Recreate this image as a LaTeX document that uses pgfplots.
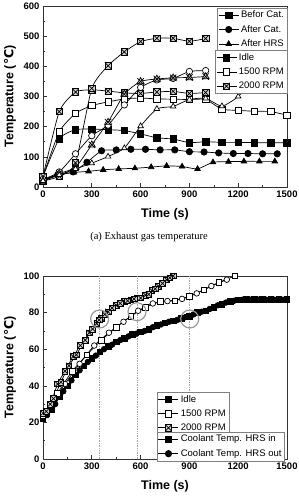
\documentclass[border=0pt]{standalone}
\usepackage{fontspec}
\setmainfont{Liberation Sans}
\newfontfamily\capfont{Liberation Serif}
\newfontfamily\dv{DejaVu Sans}
\usepackage{pgfplots}
\pgfplotsset{compat=1.18}

\pgfdeclareplotmark{xsquare}{%
  \pgfpathrectangle{\pgfpoint{-\pgfplotmarksize}{-\pgfplotmarksize}}{\pgfpoint{2\pgfplotmarksize}{2\pgfplotmarksize}}%
  \pgfusepathqfillstroke
  \pgfpathmoveto{\pgfpoint{-\pgfplotmarksize}{-\pgfplotmarksize}}%
  \pgfpathlineto{\pgfpoint{\pgfplotmarksize}{\pgfplotmarksize}}%
  \pgfpathmoveto{\pgfpoint{-\pgfplotmarksize}{\pgfplotmarksize}}%
  \pgfpathlineto{\pgfpoint{\pgfplotmarksize}{-\pgfplotmarksize}}%
  \pgfusepathqstroke}
\pgfdeclareplotmark{xtriangle}{%
  \pgfpathmoveto{\pgfpoint{0pt}{1.2\pgfplotmarksize}}%
  \pgfpathlineto{\pgfpoint{-1.1\pgfplotmarksize}{-0.7\pgfplotmarksize}}%
  \pgfpathlineto{\pgfpoint{1.1\pgfplotmarksize}{-0.7\pgfplotmarksize}}%
  \pgfpathclose
  \pgfusepathqfillstroke
  \pgfpathmoveto{\pgfpoint{-\pgfplotmarksize}{-\pgfplotmarksize}}%
  \pgfpathlineto{\pgfpoint{\pgfplotmarksize}{\pgfplotmarksize}}%
  \pgfpathmoveto{\pgfpoint{-\pgfplotmarksize}{\pgfplotmarksize}}%
  \pgfpathlineto{\pgfpoint{\pgfplotmarksize}{-\pgfplotmarksize}}%
  \pgfusepathqstroke}

\newcommand\tickfont{\fontsize{9.5}{10}\selectfont\bfseries}
\newcommand\labfont{\fontsize{12.5}{13}\selectfont\bfseries}
\newcommand\legfont{\fontsize{9.5}{10}\selectfont}

\pgfplotsset{
  base/.style={
    scale only axis, width=244pt, anchor=south west,
    xmin=0, xmax=1500, xtick={0,300,...,1500}, minor x tick num=1,
    tick align=inside, xtick pos=bottom, ytick pos=left,
    major tick length=4pt, minor tick length=2pt,
    axis line style={line width=0.8pt, black!80},
    tick style={black!80, line width=0.6pt},
    xticklabel style={font=\tickfont},
    yticklabel style={font=\tickfont},
    /pgf/number format/assume math mode=true,
    /pgf/number format/set thousands separator={},
    xlabel={Time (s)}, ylabel={Temperature ({\dv\bfseries ℃})},
    every axis x label/.style={at={(rel axis cs:0.5,0)}, yshift=-27pt, anchor=center, font=\labfont},
    every axis y label/.style={at={(rel axis cs:0,0.5)}, xshift=-33pt, rotate=90, anchor=center, font=\labfont},
    every axis plot/.append style={black, line width=0.7pt, mark size=3.2pt, smooth, tension=0.35},
    legend style={font=\legfont, draw=black!50, fill=white, inner sep=1pt, row sep=2pt, cells={anchor=west}},
    legend image code/.code={\draw[mark repeat=2,mark phase=2,#1] plot coordinates {(0pt,0pt)(10pt,0pt)(20pt,0pt)};},
  },
  leg/.style={scale only axis, width=244pt, anchor=south west, hide axis, xmin=0, xmax=1, ymin=0, ymax=1,
    legend style={font=\legfont, draw=black!50, fill=white, inner sep=1pt, row sep=2pt, cells={anchor=west}},
    legend image code/.code={\draw[mark repeat=2,mark phase=2,#1] plot coordinates {(0pt,0pt)(10pt,0pt)(20pt,0pt)};},
  },
  fsq/.style={mark=square*, mark options={fill=black}},
  osq/.style={mark=square*, mark options={fill=white}},
  xsq/.style={mark=xsquare, mark options={fill=gray!35}},
  fci/.style={mark=*, mark options={fill=black}},
  oci/.style={mark=*, mark options={fill=white}},
  ftr/.style={mark=triangle*, mark options={fill=black}},
  otr/.style={mark=triangle*, mark options={fill=white}},
  xtr/.style={mark=xtriangle, mark options={fill=gray!35}},
}

\begin{document}
\begin{tikzpicture}
\useasboundingbox (0pt,0pt) rectangle (298pt,501pt);

% ---------------- top chart
\begin{axis}[base, at={(43pt,314pt)}, height=181pt,
  ymin=0, ymax=600, ytick={0,100,...,600}, minor y tick num=1,
  legend style={at={(rel axis cs:1,0.99)}, anchor=north east}]
\addplot[fsq, forget plot] coordinates {(0,35)(100,160)(200,190)(300,192)(400,190)(500,187)(600,176)(700,163)(800,159)(900,147)(1000,150)(1100,148)(1200,148)(1300,147)(1400,147)(1500,147)};
\addplot[fci, forget plot] coordinates {(0,25)(90,40)(185,50)(270,82)(360,120)(450,123)(540,125)(630,125)(720,123)(810,123)(900,117)(990,116)(1080,113)(1170,111)(1260,111)(1350,110)(1440,110)};
\addplot[ftr, forget plot] coordinates {(0,20)(90,40)(190,48)(280,52)(370,57)(465,60)(565,62)(665,66)(760,70)(855,68)(950,60)(1045,82)(1140,84)(1235,85)(1330,85)(1425,85)};
\addplot[osq, forget plot] coordinates {(0,35)(100,183)(200,244)(300,270)(400,282)(500,292)(600,295)(700,292)(800,291)(900,290)(1000,290)(1100,258)(1200,254)(1300,251)(1400,250)(1500,238)};
\addplot[xsq, forget plot] coordinates {(0,35)(100,250)(200,315)(300,322)(400,318)(500,312)(600,310)(700,315)(800,317)(900,310)(1000,313)};
\addplot[xsq, forget plot] coordinates {(0,20)(100,35)(200,80)(300,327)(400,402)(500,448)(600,482)(700,493)(800,493)(900,483)(1000,492)};
\addplot[oci, forget plot] coordinates {(0,25)(100,50)(200,110)(300,170)(400,205)(500,272)(600,330)(700,355)(800,360)(900,383)(1000,386)};
\addplot[xtr, forget plot] coordinates {(0,20)(100,45)(200,65)(300,140)(400,215)(500,308)(600,350)(700,358)(800,362)(900,363)(1000,366)};
\addplot[otr, forget plot] coordinates {(0,20)(100,40)(200,60)(300,79)(400,101)(500,129)(600,202)(700,259)(800,267)(900,290)(1000,294)(1100,268)(1200,300)(1300,360)};
\addlegendimage{black, line width=0.7pt, mark size=3.2pt, fsq}\addlegendentry{Befor Cat.}
\addlegendimage{black, line width=0.7pt, mark size=3.2pt, fci}\addlegendentry{After Cat.}
\addlegendimage{black, line width=0.7pt, mark size=3.2pt, ftr}\addlegendentry{After HRS}
\end{axis}
\begin{axis}[leg, at={(43pt,314pt)}, height=181pt,
  legend style={at={(rel axis cs:1,0.755)}, anchor=north east}]
\addlegendimage{black, line width=0.7pt, mark size=3.2pt, fsq}\addlegendentry{Idle}
\addlegendimage{black, line width=0.7pt, mark size=3.2pt, osq}\addlegendentry{1500 RPM}
\addlegendimage{black, line width=0.7pt, mark size=3.2pt, xsq}\addlegendentry{2000 RPM}
\end{axis}

\node[font=\capfont\fontsize{10.5}{11}\selectfont] at (149pt,264pt) {(a) Exhaust gas temperature};

% ---------------- bottom chart
\begin{axis}[base, at={(43pt,42pt)}, height=183pt,
  ymin=0, ymax=100, ytick={0,20,...,100}, minor y tick num=1,
  every axis plot/.append style={mark size=2.8pt},
  legend style={at={(rel axis cs:0.467,0.366)}, anchor=north west}]
\addplot[gray!70, densely dotted, line width=0.6pt, no marks, forget plot, sharp plot] coordinates {(348,0)(348,100)};
\addplot[gray!70, densely dotted, line width=0.6pt, no marks, forget plot, sharp plot] coordinates {(578,0)(578,100)};
\addplot[gray!70, densely dotted, line width=0.6pt, no marks, forget plot, sharp plot] coordinates {(902,0)(902,100)};
\addplot[fsq, forget plot] coordinates {(0,22)(50,27)(100,34)(150,40)(200,46)(250,51)(300,55)(350,58.5)(400,61.5)(450,64)(500,66)(550,68)(600,69.5)(650,71)(700,73)(750,74.5)(800,75.5)(850,77)(900,78)(950,80)(1000,81)(1050,83)(1100,84.5)(1150,86)(1200,87)(1250,87.3)(1300,87.3)(1350,87.3)(1400,87.3)(1450,87.2)(1500,87.2)};
\addplot[fci, forget plot] coordinates {(25,24)(75,30)(125,37)(175,43)(225,48.5)(275,53)(325,56.5)(375,60)(425,62.5)(475,65)(525,67)(575,68.5)(625,70)(675,72)(725,73.5)(775,75)(825,76)(875,77.5)(925,79)(975,80.5)(1025,82)(1075,84)(1125,85.5)(1175,86.5)(1225,87)(1275,87)(1325,87)(1375,87)(1425,87)(1475,87)};
\addplot[osq, forget plot] coordinates {(0,24)(90,36)(180,48)(270,57)(360,65)(450,72)(540,78)(630,83)(720,86)(810,86.5)(900,89)(990,92.5)(1080,96.5)(1180,100)};
\addplot[oci, forget plot] coordinates {(45,29)(135,41)(225,52)(315,62)(405,69)(495,75)(585,81)(675,85)(765,86.3)(855,87.5)(945,90.5)(1035,94.5)(1130,98)};
\addplot[xsq, forget plot] coordinates {(0,25)(45,30)(90,41)(135,48)(185,56)(230,62)(285,69)(330,74)(360,77)(400,80.5)(450,84)(500,86)(540,87)(580,88)(630,89.5)(670,92)(710,94.5)(760,98)(800,100)};
\addplot[xsq, forget plot] coordinates {(20,26)(65,33)(110,42)(160,51)(205,57)(260,65)(305,71)(345,76)(380,79)(425,82.5)(475,85)(520,86.5)(560,87.5)(600,88)(650,90)(690,93)(735,96)(780,99)};
\addplot[gray!80, line width=1.2pt, mark=o, mark size=9pt, only marks, forget plot] coordinates {(348,76.5)(578,80.5)(902,76.5)};
\addlegendimage{black, line width=0.7pt, mark size=3.2pt, fsq}\addlegendentry{Idle}
\addlegendimage{black, line width=0.7pt, mark size=3.2pt, osq}\addlegendentry{1500 RPM}
\addlegendimage{black, line width=0.7pt, mark size=3.2pt, xsq}\addlegendentry{2000 RPM}
\end{axis}
\begin{axis}[leg, at={(43pt,42pt)}, height=183pt,
  legend style={at={(rel axis cs:0.467,0.148)}, anchor=north west}]
\addlegendimage{black, line width=0.7pt, mark size=3.2pt, fsq}\addlegendentry{Coolant Temp. HRS in}
\addlegendimage{black, line width=0.7pt, mark size=3.2pt, fci}\addlegendentry{Coolant Temp. HRS out}
\end{axis}
\end{tikzpicture}
\end{document}
